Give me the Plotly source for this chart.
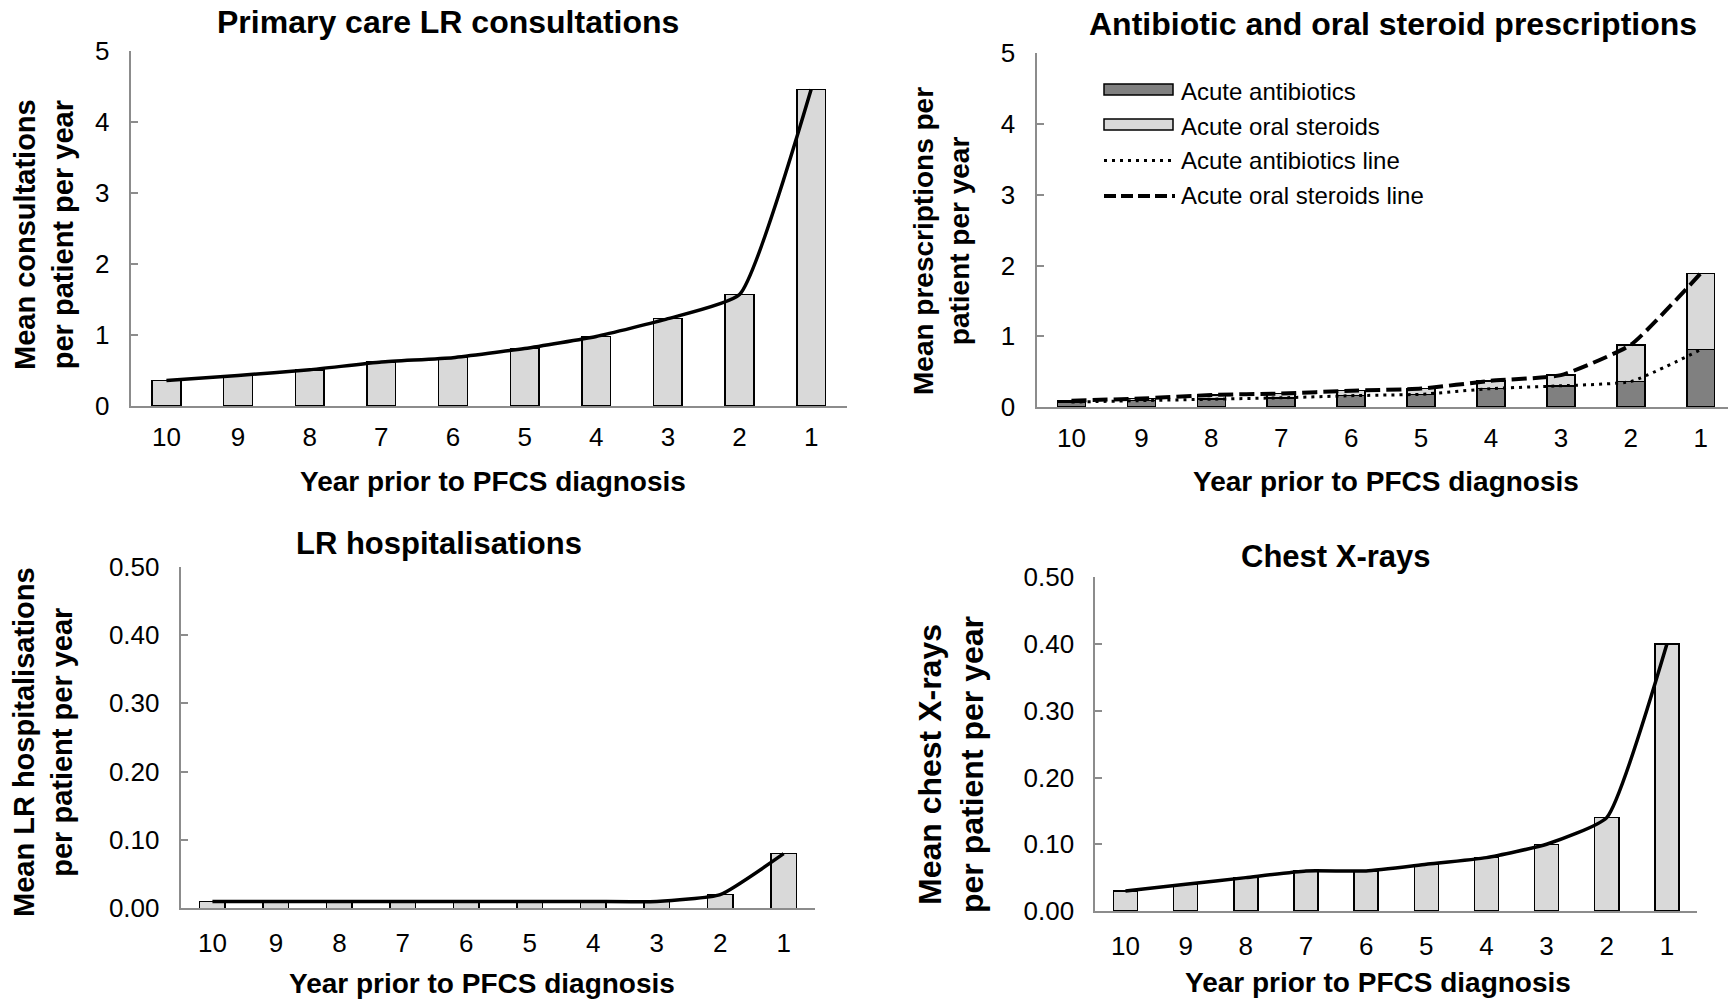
import plotly.graph_objects as go

# ---------------- data ----------------
years = ["10", "9", "8", "7", "6", "5", "4", "3", "2", "1"]
consultations = [0.36, 0.43, 0.51, 0.62, 0.68, 0.81, 0.98, 1.23, 1.57, 4.46]
antibiotics = [0.07, 0.09, 0.11, 0.13, 0.16, 0.18, 0.26, 0.30, 0.36, 0.81]
steroids = [0.02, 0.03, 0.06, 0.06, 0.07, 0.08, 0.11, 0.15, 0.52, 1.08]
hospitalisations = [0.01, 0.01, 0.01, 0.01, 0.01, 0.01, 0.01, 0.01, 0.02, 0.08]
xrays = [0.03, 0.04, 0.05, 0.06, 0.06, 0.07, 0.08, 0.10, 0.14, 0.40]

titles = ["Primary care LR consultations", "Antibiotic and oral steroid prescriptions",
          "LR hospitalisations", "Chest X-rays"]
ytitles = ["Mean consultations<br>per patient per year",
           "Mean prescriptions per<br>patient per year",
           "Mean LR hospitalisations<br>per patient per year",
           "Mean chest X-rays<br>per patient per year"]
xtitle = "Year prior to PFCS diagnosis"
legend_labels = ["Acute antibiotics", "Acute oral steroids",
                 "Acute antibiotics line", "Acute oral steroids line"]

# ---------------- styling ----------------
W, H = 1728, 1000
FONT = "Liberation Sans, Arial, sans-serif"
LIGHT = "#D9D9D9"
DARK = "#808080"
AXIS = "#8C8C8C"
SMOOTH = 0.45


def px_x(x):
    return x / W


def px_y(y):
    return 1 - y / H


fig = go.Figure()

# panel 1
fig.add_trace(go.Bar(x=years, y=consultations, marker=dict(color=LIGHT, line=dict(color="black", width=1.5)),
                     xaxis="x", yaxis="y", showlegend=False))
fig.add_trace(go.Scatter(x=years, y=consultations, mode="lines",
                         line=dict(color="black", width=3.5, shape="spline", smoothing=SMOOTH),
                         xaxis="x", yaxis="y", showlegend=False))

# panel 2
totals = [a + s for a, s in zip(antibiotics, steroids)]
fig.add_trace(go.Bar(x=years, y=antibiotics, marker=dict(color=DARK, line=dict(color="black", width=1.5)),
                     xaxis="x2", yaxis="y2", showlegend=False))
fig.add_trace(go.Bar(x=years, y=steroids, marker=dict(color=LIGHT, line=dict(color="black", width=1.5)),
                     xaxis="x2", yaxis="y2", showlegend=False))
fig.add_trace(go.Scatter(x=years, y=antibiotics, mode="lines",
                         line=dict(color="black", width=3, dash="3px,5px", shape="spline", smoothing=SMOOTH),
                         xaxis="x2", yaxis="y2", showlegend=False))
fig.add_trace(go.Scatter(x=years, y=totals, mode="lines",
                         line=dict(color="black", width=4, dash="15px,6px", shape="spline", smoothing=SMOOTH),
                         xaxis="x2", yaxis="y2", showlegend=False))

# panel 3
fig.add_trace(go.Bar(x=years, y=hospitalisations, marker=dict(color=LIGHT, line=dict(color="black", width=1.5)),
                     xaxis="x3", yaxis="y3", showlegend=False))
fig.add_trace(go.Scatter(x=years, y=hospitalisations, mode="lines",
                         line=dict(color="black", width=3.5, shape="spline", smoothing=SMOOTH),
                         xaxis="x3", yaxis="y3", showlegend=False))

# panel 4
fig.add_trace(go.Bar(x=years, y=xrays, marker=dict(color=LIGHT, line=dict(color="black", width=1.5)),
                     xaxis="x4", yaxis="y4", showlegend=False))
fig.add_trace(go.Scatter(x=years, y=xrays, mode="lines",
                         line=dict(color="black", width=3.5, shape="spline", smoothing=SMOOTH),
                         xaxis="x4", yaxis="y4", showlegend=False))

# panel geometry (pixels): left, right, top, bottom
panels = [
    (130.6, 847.0, 51.0, 406.0),
    (1036.5, 1728.0, 53.3, 407.0),
    (180.7, 815.4, 566.7, 908.3),
    (1095.4, 1697.0, 577.3, 911.0),
]
xranges = [[-0.5, 9.5], [-0.5, 9.39], [-0.5, 9.5], [-0.5, 9.5]]
yranges = [[0, 5], [0, 5], [0, 0.5], [0, 0.5]]
dticks = [1, 1, 0.1, 0.1]
fmts = ["d", "d", ".2f", ".2f"]
xstand = [7, 7, 10, 11]

layout_axes = {}
for i, (l, r, t, b) in enumerate(panels):
    n = "" if i == 0 else str(i + 1)
    layout_axes["xaxis" + n] = dict(
        domain=[px_x(l), min(1.0, px_x(r))], anchor="y" + n, type="category", range=xranges[i],
        showline=True, linecolor=AXIS, linewidth=2, ticks="", showgrid=False, zeroline=False,
        tickfont=dict(family=FONT, size=26, color="black"), ticklabelstandoff=xstand[i],
        fixedrange=True, automargin=False,
    )
    layout_axes["yaxis" + n] = dict(
        domain=[px_y(b), px_y(t)], anchor="x" + n, range=yranges[i], dtick=dticks[i], tick0=0,
        tickformat=fmts[i], showline=True, linecolor=AXIS, linewidth=2, ticks="inside",
        ticklen=7, tickwidth=1.5, tickcolor=AXIS, showgrid=False, zeroline=False,
        tickfont=dict(family=FONT, size=26, color="black"), ticklabelstandoff=14,
        fixedrange=True, automargin=False,
    )

annotations = []
# panel titles
title_pos = [(448, 22, 32), (1393, 24, 32), (439, 543, 31), (1336, 556, 31)]
for txt, (x, y, s) in zip(titles, title_pos):
    annotations.append(dict(text="<b>" + txt + "</b>", x=px_x(x), y=px_y(y), xref="paper", yref="paper",
                            xanchor="center", yanchor="middle", showarrow=False,
                            font=dict(family=FONT, size=s, color="black")))
# x titles
xt_pos = [(493, 481), (1386, 481), (482, 983), (1378, 982)]
for (x, y) in xt_pos:
    annotations.append(dict(text="<b>" + xtitle + "</b>", x=px_x(x), y=px_y(y), xref="paper", yref="paper",
                            xanchor="center", yanchor="middle", showarrow=False,
                            font=dict(family=FONT, size=28, color="black")))
# y titles
yt_pos = [(44, 235, 29), (941, 241, 28), (43, 742, 29), (951, 765, 32)]
for txt, (x, y, s) in zip(ytitles, yt_pos):
    annotations.append(dict(text="<b>" + txt + "</b>", x=px_x(x), y=px_y(y), xref="paper", yref="paper",
                            xanchor="center", yanchor="middle", showarrow=False, textangle=-90,
                            font=dict(family=FONT, size=s, color="black")))

# custom legend (panel 2)
leg_rows = [92, 126, 160.5, 195.5]
for lab, y in zip(legend_labels, leg_rows):
    annotations.append(dict(text=lab, x=px_x(1179), y=px_y(y), xref="paper", yref="paper",
                            xanchor="left", yanchor="middle", showarrow=False,
                            font=dict(family=FONT, size=24, color="black")))

shapes = [
    dict(type="rect", xref="paper", yref="paper", x0=px_x(1104), x1=px_x(1173), y0=px_y(95), y1=px_y(84),
         fillcolor=DARK, line=dict(color="black", width=1.5)),
    dict(type="rect", xref="paper", yref="paper", x0=px_x(1104), x1=px_x(1173), y0=px_y(130), y1=px_y(119),
         fillcolor=LIGHT, line=dict(color="black", width=1.5)),
    dict(type="line", xref="paper", yref="paper", x0=px_x(1104), x1=px_x(1175), y0=px_y(160.5), y1=px_y(160.5),
         line=dict(color="black", width=3, dash="3px,5px")),
    dict(type="line", xref="paper", yref="paper", x0=px_x(1104), x1=px_x(1175), y0=px_y(196), y1=px_y(196),
         line=dict(color="black", width=4, dash="12px,5px")),
]

fig.update_layout(
    template="none",
    width=W, height=H, margin=dict(l=0, r=0, t=0, b=0, pad=0, autoexpand=False),
    paper_bgcolor="white", plot_bgcolor="white",
    barmode="stack", bargap=0.6,
    annotations=annotations, shapes=shapes,
    font=dict(family=FONT, color="black"),
    **layout_axes,
)

fig.write_html("out.html", config={"displayModeBar": False},
               post_script="document.body.style.margin='0';document.body.style.overflow='hidden';")
